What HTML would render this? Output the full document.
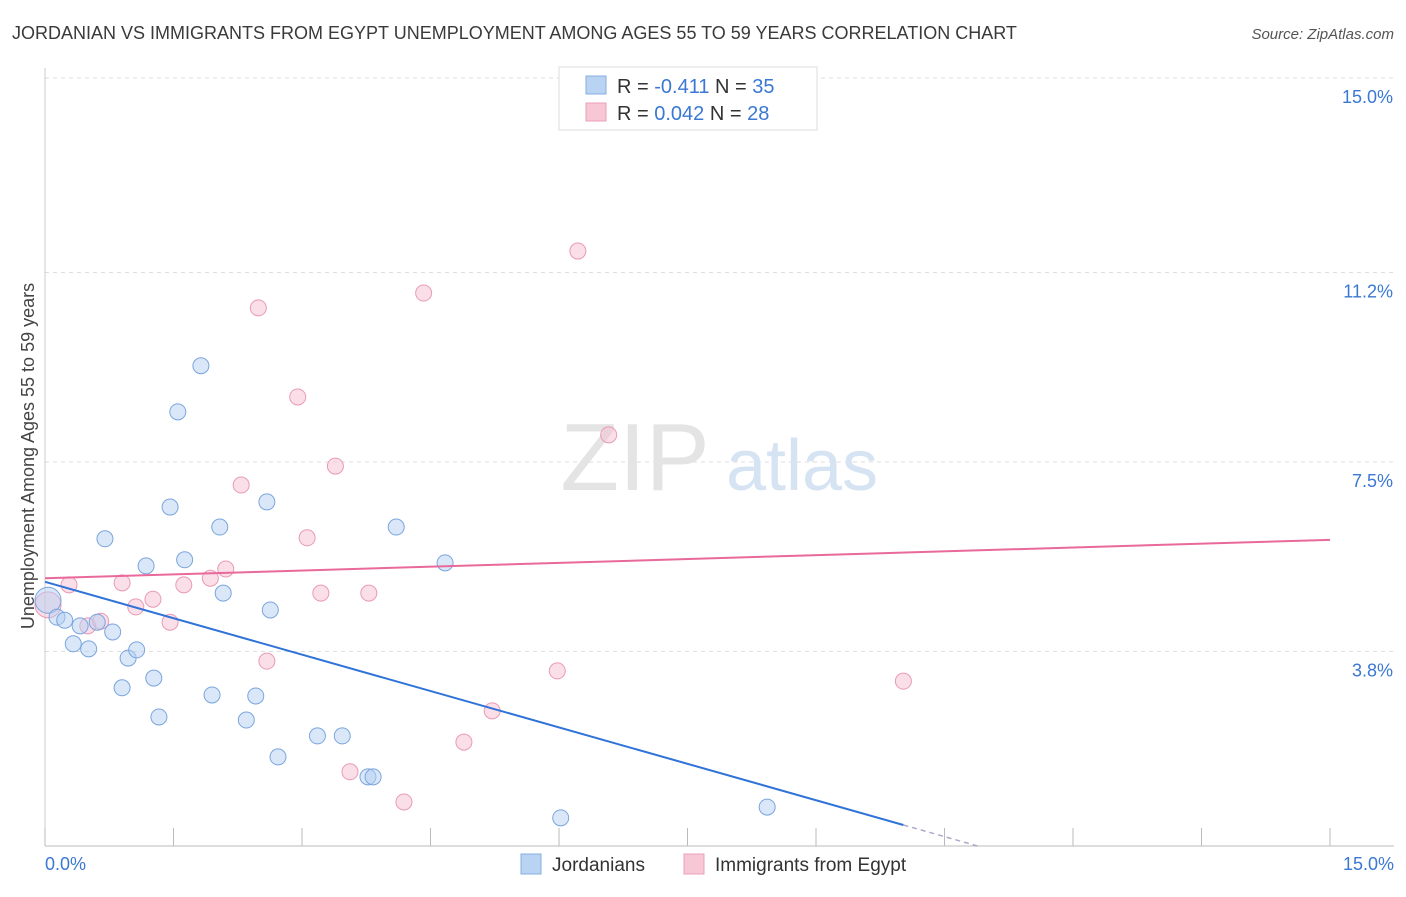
<!DOCTYPE html>
<html><head><meta charset="utf-8"><style>
body{margin:0;background:#fff;font-family:"Liberation Sans",sans-serif;}
svg text{font-family:"Liberation Sans",sans-serif;}
</style></head><body>
<svg id="c" width="1406" height="892">
<text x="12" y="39" font-size="18" fill="#3a3a3a">JORDANIAN VS IMMIGRANTS FROM EGYPT UNEMPLOYMENT AMONG AGES 55 TO 59 YEARS CORRELATION CHART</text>
<text x="1394" y="39" font-size="15" fill="#555" text-anchor="end" font-style="italic">Source: ZipAtlas.com</text>
<text x="0" y="0" transform="translate(34,456) rotate(-90)" font-size="18" fill="#444" text-anchor="middle">Unemployment Among Ages 55 to 59 years</text>
<g id="grid"></g>
<text x="635" y="490" font-size="96" fill="#e4e4e4" font-family="Liberation Serif" text-anchor="middle">ZIP</text>
<text x="802" y="490" font-size="72" fill="#d6e3f3" text-anchor="middle">atlas</text>
<g id="marks"></g>
<g>
<rect x="559" y="67" width="258" height="63" fill="#fff" stroke="#ddd"/>
<rect x="586" y="76" width="20" height="18" fill="#b9d3f3" stroke="#88aee0"/>
<rect x="586" y="103" width="20" height="18" fill="#f8c7d6" stroke="#eaa0b8"/>
<text x="617" y="93" font-size="20" fill="#333">R = <tspan fill="#3a78d4">-0.411</tspan>   N = <tspan fill="#3a78d4">35</tspan></text>
<text x="617" y="120" font-size="20" fill="#333">R = <tspan fill="#3a78d4">0.042</tspan>   N = <tspan fill="#3a78d4">28</tspan></text>
</g>
<g>
<rect x="521" y="854" width="20" height="20" fill="#b9d3f3" stroke="#88aee0"/>
<text x="552" y="871" font-size="19" fill="#333">Jordanians</text>
<rect x="684" y="854" width="20" height="20" fill="#f8c7d6" stroke="#eaa0b8"/>
<text x="715" y="871" font-size="19" fill="#333">Immigrants from Egypt</text>
</g>
</svg>
<script>
const yTicks=[3.8,7.5,11.2,15.0];
const yTickLabels=["3.8%","7.5%","11.2%","15.0%"];
const xTickLabels=["0.0%","15.0%"];
const jordX=[0.035,0.14,0.23,0.33,0.41,0.51,0.61,0.70,0.79,0.90,0.97,1.07,1.18,1.27,1.33,1.46,1.55,1.63,1.82,1.95,2.04,2.08,2.35,2.46,2.59,2.63,2.72,3.18,3.47,3.77,3.83,4.10,4.67,6.02,8.43];
const jordY=[4.80,4.47,4.41,3.95,4.30,3.85,4.37,6.00,4.18,3.09,3.67,3.83,5.47,3.28,2.52,6.62,8.48,5.59,9.38,2.95,6.23,4.94,2.46,2.93,6.72,4.61,1.74,2.15,2.15,1.35,1.35,6.23,5.53,0.55,0.76];
const egyX=[0.035,0.28,0.50,0.65,0.90,1.06,1.26,1.46,1.62,1.93,2.11,2.29,2.49,2.59,2.95,3.06,3.22,3.39,3.56,3.78,4.19,4.42,4.89,5.22,5.98,6.22,6.58,10.02];
const egyY=[4.71,5.10,4.30,4.39,5.14,4.67,4.82,4.37,5.10,5.23,5.41,7.05,10.51,3.61,8.77,6.02,4.94,7.42,1.45,4.94,0.86,10.80,2.03,2.64,3.42,11.62,8.03,3.22];
const jordTrend=[5.16,-0.474];
const egyTrend=[5.23,0.05];
const NS="http://www.w3.org/2000/svg";
const X0=45,X1=1330,Y0=846,Y1=78;
const sx=v=>X0+(v/15)*(X1-X0);
const sy=v=>Y0-(v/15)*(Y0-Y1);
function mk(tag,attrs,parent){const e=document.createElementNS(NS,tag);for(const k in attrs)e.setAttribute(k,attrs[k]);parent.appendChild(e);return e;}
const grid=document.getElementById('grid');
const marks=document.getElementById('marks');
yTicks.forEach((t,i)=>{
  const l=mk('line',{x1:X0,x2:1394,y1:sy(t),y2:sy(t),stroke:'#ddd','stroke-dasharray':'4,4'},grid);
  
  
  const tx=mk('text',{x:1393,y:sy(t)+25,'font-size':18,fill:'#3a78d4','text-anchor':'end'},grid);
  tx.textContent=yTickLabels[i];
  
  
});
const ax=mk('line',{x1:X0,x2:1394,y1:Y0,y2:Y0,stroke:'#bbb'},grid);


const ay=mk('line',{x1:X0,x2:X0,y1:68,y2:Y0,stroke:'#ccc'},grid);


for(let i=0;i<=10;i++){
  const t=mk('line',{x1:sx(i*1.5),x2:sx(i*1.5),y1:Y0,y2:Y0-18,stroke:'#bbb'},grid);
  
  
}
const xl0=mk('text',{x:45,y:870,'font-size':18,fill:'#3a78d4'},grid);xl0.textContent=xTickLabels[0];


const xl1=mk('text',{x:1394,y:870,'font-size':18,fill:'#3a78d4','text-anchor':'end'},grid);xl1.textContent=xTickLabels[1];


function pts(xs,ys,fill,stroke,name){
  xs.forEach((x,i)=>{
    const c=mk('circle',{cx:sx(x),cy:sy(ys[i]),r:i===0?13:8,fill:fill,'fill-opacity':0.5,stroke:stroke,'stroke-width':1},marks);
    
    
  });
}
pts(egyX,egyY,'#f8c0d2','#e99ab5','point-egypt');
pts(jordX,jordY,'#b3cff2','#7aa5de','point-jordanian');
const xEnd=10.02;
const bl=mk('line',{x1:sx(0),y1:sy(jordTrend[0]),x2:sx(xEnd),y2:sy(jordTrend[0]+jordTrend[1]*xEnd),stroke:'#2f73d8','stroke-width':2},marks);


const xz=-jordTrend[0]/jordTrend[1];
const bd=mk('line',{x1:sx(xEnd),y1:sy(jordTrend[0]+jordTrend[1]*xEnd),x2:sx(xz),y2:sy(0),stroke:'#aac','stroke-width':1.5,'stroke-dasharray':'5,4'},marks);


const pl=mk('line',{x1:sx(0),y1:sy(egyTrend[0]),x2:sx(15),y2:sy(egyTrend[0]+egyTrend[1]*15),stroke:'#e8699a','stroke-width':2},marks);


</script>
</body></html>
